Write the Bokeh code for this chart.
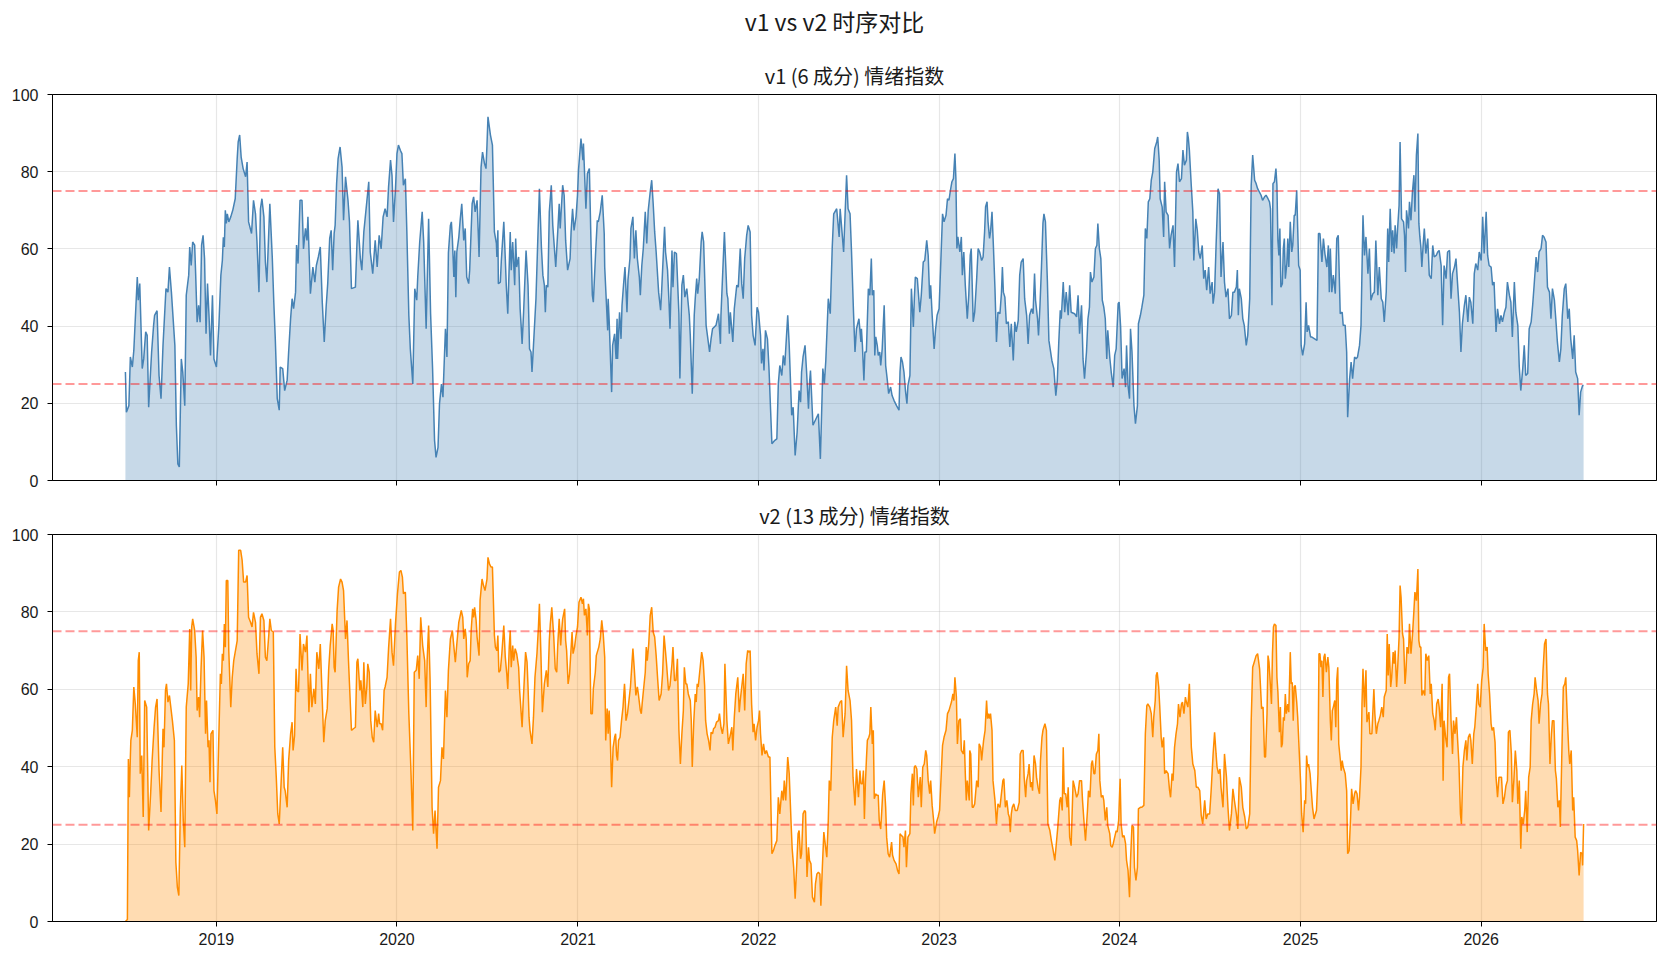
import numpy as np
import pandas as pd
from bokeh.plotting import figure
from bokeh.layouts import column
from bokeh.models import (Range1d, FixedTicker, DatetimeTickFormatter, Span, Title,
                          ColumnDataSource)
from bokeh.core.properties import value
from bokeh.embed import file_html
from bokeh.resources import INLINE

# ---- data: (days since START, index value) ----
START = "2018-07-01"

v1_points = [
    (0, 28.1), (2, 17.7), (7, 19.4), (10, 32.0), (14, 29.4), (17, 33.7), (24, 52.7), (26, 46.7), (29, 51.0), (34, 29.0),
    (37, 31.5), (41, 38.5), (44, 37.6), (47, 19.0), (53, 33.3), (57, 40.2), (59, 42.8), (64, 44.0), (68, 27.2), (72, 21.2),
    (76, 35.0), (82, 49.7), (86, 48.8), (89, 55.3), (93, 48.8), (100, 35.0), (103, 14.3), (106, 4.3), (109, 3.5), (113, 31.5),
    (116, 28.0), (120, 19.4), (123, 48.0), (128, 53.2), (130, 60.5), (133, 55.7), (136, 61.8), (140, 61.0), (142, 53.6), (145, 41.0),
    (148, 45.4), (151, 41.0), (154, 61.0), (157, 63.5), (160, 57.5), (163, 38.0), (166, 51.0), (169, 42.8), (172, 32.4), (176, 48.0),
    (179, 31.5), (184, 29.4), (189, 40.2), (193, 53.2), (196, 57.0), (198, 63.0), (200, 60.5), (202, 70.0), (204, 66.6), (206, 69.1),
    (209, 67.0), (213, 68.3), (217, 70.0), (222, 73.0), (226, 83.4), (228, 87.7), (231, 89.5), (234, 83.8), (238, 80.8), (243, 78.7),
    (246, 82.5), (249, 67.0), (255, 64.0), (259, 72.6), (263, 69.1), (266, 61.8), (270, 48.8), (273, 70.4), (276, 73.0), (280, 68.3),
    (283, 56.6), (286, 51.4), (292, 71.7), (297, 57.5), (300, 46.2), (303, 36.7), (307, 21.2), (311, 18.2), (313, 29.4), (318, 29.0),
    (322, 23.3), (327, 26.0), (330, 33.3), (334, 42.0), (337, 47.1), (340, 44.5), (344, 48.8), (346, 61.0), (349, 56.2), (353, 72.6),
    (357, 72.6), (360, 60.0), (364, 65.3), (367, 62.2), (369, 68.3), (374, 48.4), (379, 55.3), (383, 51.4), (386, 55.7), (390, 57.9),
    (394, 60.5), (398, 46.2), (402, 35.9), (406, 45.4), (409, 51.0), (413, 62.7), (416, 64.8), (419, 54.5), (422, 64.0), (424, 66.1),
    (427, 77.0), (430, 83.4), (434, 86.4), (438, 81.2), (441, 67.4), (445, 78.7), (450, 72.6), (453, 67.0), (457, 49.7), (465, 50.1),
    (468, 61.0), (470, 67.4), (475, 57.5), (478, 54.5), (482, 64.4), (486, 69.6), (492, 77.4), (495, 59.2), (500, 53.6), (505, 62.2),
    (509, 55.3), (513, 63.5), (517, 60.0), (521, 68.3), (525, 70.4), (529, 68.3), (532, 76.0), (536, 83.0), (539, 79.0), (542, 67.0),
    (546, 75.6), (549, 84.7), (552, 86.9), (556, 85.5), (559, 84.7), (562, 76.5), (566, 78.2), (569, 64.4), (573, 42.8), (576, 34.1),
    (581, 25.0), (585, 49.7), (589, 46.7), (591, 52.7), (595, 61.8), (600, 69.6), (603, 61.8), (608, 39.3), (613, 67.8), (617, 43.2),
    (621, 29.0), (625, 10.4), (628, 6.0), (632, 8.6), (635, 19.9), (639, 25.0), (642, 21.6), (647, 39.3), (650, 32.0), (653, 59.0),
    (657, 66.1), (659, 67.0), (661, 62.7), (664, 52.7), (666, 59.6), (668, 47.5), (670, 59.2), (674, 63.0), (677, 67.8), (680, 71.7),
    (684, 62.2), (687, 65.3), (690, 52.7), (694, 51.0), (696, 54.5), (701, 71.7), (704, 73.5), (707, 69.6), (711, 72.6), (714, 61.8),
    (715, 57.9), (719, 81.2), (722, 85.1), (726, 82.1), (729, 80.8), (731, 86.9), (733, 94.2), (738, 89.5), (742, 86.9), (746, 64.4),
    (750, 61.4), (751, 57.9), (753, 64.8), (754, 51.0), (758, 51.4), (760, 57.0), (765, 67.0), (768, 57.5), (770, 50.6), (773, 43.2),
    (778, 64.4), (780, 54.5), (783, 61.8), (787, 50.6), (789, 62.7), (791, 55.3), (795, 57.9), (798, 44.5), (800, 40.2), (802, 35.4),
    (805, 43.6), (810, 59.6), (814, 50.6), (817, 34.1), (820, 33.3), (822, 28.1), (825, 35.0), (830, 47.1), (834, 63.5), (837, 75.6),
    (841, 60.5), (844, 53.2), (847, 50.6), (849, 43.6), (851, 50.6), (854, 50.1), (857, 69.6), (861, 76.5), (864, 66.1), (870, 55.3),
    (874, 64.4), (877, 71.7), (879, 65.3), (884, 76.5), (887, 73.9), (890, 62.2), (894, 54.5), (899, 57.5), (901, 64.4), (904, 70.4),
    (907, 64.8), (911, 68.3), (914, 73.9), (916, 80.4), (921, 88.6), (925, 83.0), (926, 87.3), (931, 70.4), (934, 79.5), (938, 80.8),
    (941, 63.1), (944, 48.0), (946, 46.2), (951, 60.1), (954, 67.4), (956, 67.0), (960, 69.6), (964, 73.9), (968, 64.0), (969, 55.3),
    (972, 47.1), (975, 38.9), (976, 47.1), (978, 41.5), (983, 22.9), (985, 35.0), (989, 38.0), (992, 31.5), (994, 41.9), (995, 31.5),
    (999, 43.6), (1002, 36.7), (1004, 45.4), (1007, 50.6), (1010, 55.3), (1014, 43.6), (1016, 51.9), (1020, 57.5), (1022, 65.3), (1026, 68.3),
    (1029, 57.5), (1032, 64.8), (1035, 57.5), (1039, 52.7), (1041, 48.0), (1044, 55.7), (1047, 60.1), (1051, 69.6), (1054, 61.4), (1057, 70.0),
    (1061, 74.8), (1064, 77.8), (1067, 71.7), (1070, 64.4), (1073, 59.2), (1078, 48.8), (1082, 44.1), (1084, 48.8), (1090, 65.7), (1092, 59.2),
    (1096, 54.5), (1099, 46.2), (1101, 39.3), (1105, 59.6), (1107, 50.1), (1110, 59.2), (1114, 58.8), (1119, 43.2), (1121, 26.4), (1125, 50.6),
    (1128, 53.2), (1131, 47.5), (1135, 49.7), (1140, 42.8), (1142, 37.6), (1146, 22.5), (1150, 42.8), (1152, 47.1), (1155, 52.3), (1157, 48.4),
    (1160, 51.9), (1164, 61.8), (1166, 64.4), (1169, 61.8), (1174, 40.2), (1181, 33.3), (1184, 36.7), (1187, 39.3), (1194, 40.2), (1199, 43.2),
    (1203, 35.4), (1204, 42.8), (1211, 64.4), (1216, 48.4), (1218, 47.1), (1221, 38.0), (1223, 43.6), (1228, 35.9), (1231, 44.5), (1236, 50.6),
    (1239, 50.1), (1243, 60.1), (1246, 51.0), (1249, 47.1), (1252, 57.5), (1256, 63.5), (1259, 66.1), (1263, 64.4), (1266, 42.8), (1269, 37.6),
    (1273, 35.0), (1277, 44.9), (1280, 43.6), (1284, 37.6), (1286, 30.3), (1289, 34.1), (1291, 28.5), (1294, 38.9), (1298, 36.7), (1301, 29.4),
    (1307, 9.5), (1313, 10.4), (1317, 10.8), (1320, 25.1), (1323, 29.8), (1327, 27.2), (1330, 32.4), (1333, 29.8), (1339, 42.8), (1342, 35.0),
    (1347, 16.9), (1350, 19.0), (1354, 6.5), (1358, 12.5), (1362, 23.3), (1365, 20.3), (1367, 28.1), (1370, 32.0), (1374, 35.0), (1377, 28.5),
    (1381, 18.6), (1383, 25.1), (1385, 28.5), (1390, 14.3), (1401, 17.3), (1405, 5.6), (1410, 29.0), (1413, 25.1), (1416, 31.1), (1421, 47.1),
    (1425, 43.2), (1429, 60.5), (1432, 69.1), (1438, 70.4), (1443, 63.1), (1445, 70.4), (1452, 59.2), (1458, 79.1), (1461, 70.4), (1465, 69.1),
    (1468, 59.2), (1472, 43.6), (1475, 33.3), (1478, 39.3), (1483, 41.9), (1487, 35.9), (1488, 39.3), (1490, 35.0), (1493, 25.9), (1495, 33.3),
    (1498, 33.3), (1502, 49.7), (1505, 48.0), (1508, 57.5), (1510, 48.0), (1513, 49.3), (1515, 32.4), (1517, 37.2), (1520, 35.0), (1522, 32.4),
    (1525, 33.3), (1527, 29.8), (1530, 34.1), (1534, 45.4), (1537, 29.8), (1540, 26.4), (1543, 22.5), (1547, 24.2), (1550, 22.0), (1554, 20.7),
    (1559, 19.4), (1564, 18.2), (1566, 28.1), (1568, 32.0), (1571, 30.7), (1574, 28.1), (1577, 23.3), (1580, 19.9), (1582, 24.6), (1586, 27.2),
    (1589, 49.7), (1593, 39.8), (1595, 47.1), (1597, 52.7), (1601, 52.3), (1606, 43.6), (1609, 48.0), (1613, 56.6), (1616, 57.0), (1620, 62.2),
    (1623, 58.3), (1626, 47.1), (1628, 50.6), (1631, 42.8), (1635, 34.1), (1638, 39.3), (1641, 42.8), (1645, 44.5), (1648, 54.9), (1652, 69.1),
    (1655, 67.0), (1659, 68.7), (1662, 73.0), (1665, 72.6), (1668, 75.2), (1671, 77.4), (1674, 78.2), (1677, 84.7), (1679, 78.2), (1681, 60.1),
    (1683, 63.1), (1687, 59.2), (1690, 63.1), (1692, 53.2), (1695, 59.2), (1698, 50.6), (1702, 41.9), (1705, 48.0), (1708, 58.3), (1710, 60.1),
    (1714, 41.1), (1717, 43.6), (1721, 52.3), (1724, 60.1), (1727, 59.2), (1731, 57.0), (1734, 57.9), (1737, 64.4), (1739, 70.9), (1742, 72.2),
    (1744, 67.0), (1747, 62.7), (1749, 64.4), (1752, 69.6), (1755, 60.1), (1758, 49.7), (1761, 35.9), (1764, 43.6), (1768, 43.2), (1771, 48.4),
    (1773, 55.3), (1775, 48.8), (1778, 47.5), (1781, 40.6), (1785, 41.1), (1788, 34.6), (1791, 40.6), (1795, 31.1), (1798, 41.1), (1801, 38.5),
    (1805, 41.5), (1808, 53.2), (1811, 56.6), (1815, 57.5), (1818, 47.1), (1822, 42.8), (1825, 35.4), (1828, 42.8), (1832, 44.5), (1835, 43.2),
    (1838, 53.6), (1840, 46.7), (1844, 41.9), (1846, 37.6), (1849, 45.4), (1852, 55.3), (1855, 66.6), (1857, 69.1), (1860, 67.0), (1864, 51.4),
    (1867, 36.3), (1870, 33.7), (1873, 31.1), (1877, 29.0), (1881, 22.0), (1884, 25.9), (1887, 35.9), (1890, 44.1), (1892, 41.9), (1896, 51.4),
    (1899, 43.6), (1902, 48.8), (1906, 42.8), (1909, 50.6), (1912, 43.6), (1919, 43.2), (1923, 42.4), (1926, 48.0), (1929, 38.0), (1933, 45.4),
    (1936, 31.5), (1939, 26.4), (1943, 33.3), (1946, 41.9), (1949, 44.9), (1951, 54.0), (1954, 51.4), (1958, 52.7), (1961, 60.1), (1964, 60.9),
    (1966, 66.6), (1969, 60.1), (1972, 57.5), (1975, 46.7), (1978, 44.9), (1981, 41.9), (1984, 31.5), (1986, 38.9), (1990, 32.0), (1993, 28.1),
    (1997, 24.2), (2000, 32.4), (2003, 34.1), (2007, 45.8), (2009, 46.2), (2012, 39.8), (2015, 26.4), (2019, 29.0), (2022, 24.2), (2024, 35.0),
    (2027, 24.6), (2030, 21.2), (2032, 39.3), (2035, 33.3), (2039, 19.4), (2042, 14.7), (2046, 19.4), (2048, 40.6), (2052, 42.8), (2055, 44.9),
    (2059, 48.0), (2062, 65.3), (2065, 62.7), (2068, 72.2), (2071, 73.0), (2074, 77.8), (2077, 79.9), (2081, 86.0), (2085, 87.7), (2087, 89.0),
    (2090, 83.0), (2092, 73.0), (2096, 70.9), (2099, 63.1), (2101, 77.4), (2104, 69.6), (2108, 68.7), (2111, 60.1), (2114, 63.5), (2118, 66.1),
    (2121, 55.3), (2125, 79.9), (2128, 82.1), (2131, 77.4), (2135, 78.2), (2138, 85.6), (2141, 81.7), (2145, 83.0), (2147, 90.3), (2149, 88.6),
    (2151, 85.6), (2155, 76.1), (2158, 69.6), (2160, 57.0), (2164, 67.8), (2167, 64.8), (2170, 59.2), (2173, 57.5), (2177, 60.9), (2180, 52.3),
    (2183, 54.5), (2186, 49.3), (2190, 55.3), (2193, 48.4), (2197, 51.4), (2199, 45.8), (2202, 48.8), (2205, 60.9), (2209, 75.6), (2212, 74.3),
    (2215, 52.7), (2219, 61.8), (2222, 51.4), (2225, 47.5), (2229, 49.7), (2232, 41.9), (2236, 42.8), (2239, 48.8), (2242, 48.8), (2246, 50.1),
    (2248, 54.5), (2250, 42.8), (2252, 49.7), (2256, 47.1), (2259, 41.9), (2262, 40.2), (2266, 35.0), (2269, 37.6), (2273, 47.1), (2276, 76.5),
    (2279, 84.3), (2283, 77.8), (2286, 76.9), (2289, 75.6), (2296, 73.9), (2299, 72.6), (2303, 73.5), (2306, 73.9), (2310, 73.0), (2313, 72.2),
    (2315, 70.4), (2318, 45.4), (2320, 76.9), (2323, 77.4), (2326, 80.8), (2328, 76.5), (2330, 62.2), (2332, 58.3), (2334, 65.3), (2336, 50.1),
    (2339, 51.0), (2341, 60.1), (2343, 62.7), (2345, 52.3), (2348, 56.2), (2350, 62.7), (2352, 55.3), (2355, 67.0), (2358, 59.2), (2360, 60.9),
    (2363, 68.7), (2365, 68.7), (2368, 75.2), (2370, 65.3), (2372, 55.7), (2375, 54.5), (2377, 35.0), (2380, 32.4), (2384, 35.4), (2387, 46.2),
    (2389, 38.5), (2392, 40.2), (2396, 37.2), (2398, 37.2), (2409, 36.3), (2412, 64.0), (2415, 64.0), (2419, 56.6), (2422, 62.7), (2425, 58.8),
    (2429, 55.3), (2432, 60.9), (2434, 48.8), (2436, 60.1), (2439, 48.8), (2442, 53.2), (2446, 48.4), (2449, 62.7), (2452, 63.5), (2456, 43.2),
    (2460, 43.6), (2462, 40.2), (2466, 40.2), (2469, 33.3), (2471, 16.4), (2475, 26.4), (2478, 30.7), (2481, 26.4), (2485, 32.0), (2488, 31.5),
    (2491, 32.0), (2495, 35.0), (2498, 40.2), (2502, 68.7), (2505, 58.3), (2508, 63.1), (2512, 53.6), (2515, 60.1), (2518, 46.7), (2522, 48.4),
    (2525, 48.8), (2528, 62.2), (2532, 48.0), (2535, 55.3), (2539, 47.1), (2542, 46.2), (2545, 41.1), (2549, 48.8), (2552, 65.3), (2554, 56.6),
    (2557, 70.4), (2560, 59.2), (2562, 64.8), (2565, 58.8), (2567, 66.1), (2570, 60.1), (2572, 65.3), (2575, 71.3), (2577, 87.7), (2580, 67.8),
    (2584, 67.0), (2586, 63.5), (2588, 54.0), (2590, 70.0), (2594, 65.3), (2596, 72.2), (2599, 67.4), (2602, 74.8), (2605, 79.1), (2607, 69.6),
    (2610, 84.3), (2613, 89.9), (2615, 66.6), (2617, 63.1), (2619, 60.5), (2621, 55.3), (2624, 61.8), (2626, 65.3), (2629, 58.8), (2633, 62.7),
    (2636, 53.2), (2640, 52.3), (2643, 60.9), (2646, 57.9), (2650, 58.3), (2653, 59.2), (2656, 59.6), (2660, 55.7), (2663, 40.2), (2666, 55.7),
    (2670, 52.3), (2673, 59.2), (2677, 59.6), (2680, 47.1), (2683, 53.6), (2687, 55.3), (2690, 57.5), (2693, 51.4), (2697, 43.6), (2700, 33.3),
    (2703, 40.6), (2707, 45.4), (2710, 48.0), (2714, 41.1), (2717, 47.5), (2720, 46.2), (2724, 40.6), (2727, 53.6), (2730, 56.2), (2734, 54.5),
    (2737, 59.2), (2741, 57.0), (2744, 68.3), (2747, 58.8), (2751, 69.6), (2754, 58.3), (2757, 55.7), (2761, 55.3), (2764, 50.6), (2767, 51.4),
    (2771, 38.5), (2774, 44.5), (2778, 40.6), (2781, 42.8), (2784, 41.1), (2788, 43.6), (2791, 44.9), (2794, 51.4), (2798, 48.0), (2801, 46.2),
    (2804, 37.2), (2808, 51.4), (2811, 43.6), (2815, 40.2), (2818, 29.4), (2821, 23.3), (2825, 29.0), (2828, 35.0), (2831, 27.2), (2835, 27.7),
    (2838, 39.3), (2842, 41.1), (2845, 45.4), (2848, 50.6), (2852, 57.9), (2855, 54.0), (2858, 59.2), (2862, 60.1), (2865, 63.5), (2868, 63.1),
    (2872, 61.8), (2875, 50.1), (2879, 48.8), (2882, 41.9), (2885, 49.7), (2889, 46.7), (2892, 41.5), (2895, 35.9), (2899, 30.7), (2902, 34.1),
    (2905, 42.8), (2909, 49.7), (2912, 51.0), (2916, 41.9), (2919, 44.5), (2922, 36.7), (2926, 31.5), (2929, 37.6), (2932, 28.1), (2936, 26.4),
    (2939, 16.9), (2942, 22.9), (2946, 24.6), (2948, 24.6),
]

v2_points = [
    (0, 0.0), (4, 0.5), (6, 42.0), (8, 32.1), (10, 42.5), (11, 46.8), (14, 49.4), (17, 60.6), (20, 56.2), (24, 47.6),
    (26, 67.4), (28, 69.6), (30, 38.2), (33, 42.9), (36, 27.0), (39, 57.1), (43, 55.4), (47, 23.5), (51, 33.0), (54, 41.6),
    (58, 50.2), (61, 55.4), (64, 57.5), (68, 39.0), (72, 28.3), (76, 49.8), (78, 45.0), (81, 59.7), (83, 61.4), (86, 56.7),
    (89, 58.4), (95, 51.9), (99, 46.8), (102, 15.3), (105, 8.9), (108, 6.7), (111, 28.7), (114, 40.3), (117, 26.1), (120, 19.2),
    (123, 55.4), (127, 61.4), (130, 75.6), (132, 59.7), (134, 76.1), (136, 78.2), (140, 75.2), (143, 68.3), (145, 54.5), (148, 58.0),
    (150, 52.8), (153, 65.7), (156, 75.2), (159, 68.3), (162, 48.5), (164, 57.1), (167, 45.0), (169, 46.8), (171, 36.0), (173, 48.5),
    (177, 49.4), (179, 33.8), (182, 31.3), (185, 27.8), (189, 48.5), (192, 64.0), (194, 61.4), (196, 69.2), (198, 67.4), (200, 76.9),
    (202, 70.9), (204, 88.1), (207, 88.1), (209, 70.0), (213, 55.4), (216, 63.1), (219, 67.4), (226, 72.6), (229, 95.9), (233, 95.9),
    (236, 93.3), (239, 87.7), (243, 87.7), (246, 89.4), (249, 78.6), (253, 77.3), (256, 76.1), (259, 79.9), (263, 77.3), (266, 69.2),
    (270, 64.0), (273, 78.6), (276, 79.5), (280, 77.8), (283, 68.3), (286, 67.4), (290, 74.3), (292, 78.2), (295, 75.2), (299, 74.8),
    (302, 45.0), (305, 37.3), (308, 27.8), (311, 25.2), (314, 33.8), (318, 45.0), (321, 34.7), (323, 33.8), (327, 29.5), (330, 41.6),
    (334, 48.5), (337, 51.5), (339, 44.2), (342, 48.1), (345, 65.3), (347, 59.7), (350, 59.3), (353, 74.3), (357, 64.9), (360, 71.7),
    (364, 69.6), (367, 73.9), (371, 54.1), (374, 64.0), (377, 55.4), (381, 60.1), (384, 56.2), (387, 69.6), (391, 65.3), (394, 71.7),
    (398, 57.1), (401, 46.3), (404, 51.9), (408, 55.0), (411, 65.3), (414, 71.3), (418, 76.9), (420, 75.2), (422, 65.7), (424, 64.4),
    (428, 80.4), (431, 86.4), (435, 88.5), (438, 87.7), (441, 85.5), (445, 73.0), (448, 77.8), (451, 67.4), (457, 49.4), (461, 49.8),
    (465, 50.2), (468, 67.0), (470, 67.9), (474, 59.7), (476, 62.3), (480, 55.4), (482, 67.0), (485, 56.2), (488, 60.6), (490, 66.6),
    (493, 64.4), (496, 51.9), (499, 47.6), (502, 46.3), (505, 54.5), (509, 50.2), (512, 53.7), (514, 51.1), (517, 51.1), (520, 49.4),
    (523, 59.7), (525, 60.6), (529, 63.1), (532, 70.5), (536, 78.2), (539, 69.6), (542, 66.1), (546, 76.9), (550, 84.7), (554, 90.3),
    (557, 90.7), (560, 89.0), (562, 84.7), (566, 85.1), (569, 73.5), (573, 53.7), (577, 39.9), (581, 23.5), (584, 64.4), (588, 64.9),
    (591, 68.7), (594, 62.7), (597, 78.6), (601, 71.3), (605, 67.4), (608, 55.4), (610, 67.4), (613, 76.5), (616, 62.3), (620, 29.5),
    (623, 22.7), (626, 28.7), (630, 18.8), (633, 34.7), (637, 36.4), (640, 45.0), (643, 42.0), (647, 59.7), (650, 52.8), (653, 64.9),
    (657, 73.0), (661, 75.2), (667, 67.0), (670, 71.7), (674, 77.3), (679, 80.4), (682, 78.6), (684, 73.0), (687, 75.6), (689, 73.0),
    (691, 63.1), (694, 66.6), (697, 67.4), (699, 75.2), (702, 80.8), (704, 78.6), (706, 81.2), (709, 77.8), (711, 73.5), (715, 68.7),
    (717, 82.9), (721, 88.5), (724, 86.8), (727, 85.5), (731, 88.5), (733, 94.1), (736, 92.4), (739, 91.6), (742, 91.6), (746, 73.9),
    (748, 70.9), (751, 70.0), (753, 73.9), (755, 64.4), (758, 64.9), (761, 69.2), (765, 76.5), (768, 68.3), (771, 64.0), (773, 60.1),
    (776, 70.9), (778, 75.2), (780, 65.7), (783, 71.3), (785, 67.4), (788, 70.5), (791, 69.2), (795, 65.7), (797, 59.7), (802, 50.2),
    (804, 56.2), (806, 61.4), (809, 69.6), (812, 67.0), (814, 60.6), (816, 52.8), (818, 49.4), (822, 45.9), (825, 52.8), (828, 63.1),
    (832, 69.2), (835, 76.1), (837, 82.1), (840, 69.2), (843, 54.1), (847, 61.4), (851, 64.9), (854, 60.6), (857, 72.6), (859, 76.9),
    (862, 81.2), (866, 73.5), (869, 65.3), (872, 64.4), (874, 71.3), (877, 78.2), (880, 71.3), (882, 75.2), (884, 78.2), (888, 80.8),
    (890, 72.6), (892, 70.0), (895, 61.4), (898, 64.0), (903, 74.8), (905, 69.2), (908, 70.9), (911, 73.9), (914, 76.1), (917, 82.5),
    (921, 83.8), (924, 82.1), (926, 83.4), (928, 79.1), (931, 80.8), (934, 73.9), (936, 82.1), (938, 80.8), (941, 53.7), (944, 53.7),
    (946, 60.1), (950, 64.4), (952, 68.7), (954, 69.6), (957, 70.9), (960, 73.0), (963, 77.8), (966, 74.3), (969, 68.3), (971, 46.8),
    (974, 55.0), (976, 48.5), (978, 54.5), (980, 48.5), (983, 34.7), (986, 45.0), (989, 47.6), (991, 48.5), (993, 42.9), (995, 41.6),
    (997, 46.8), (1000, 47.6), (1003, 51.9), (1006, 55.4), (1009, 61.4), (1010, 59.3), (1012, 51.9), (1015, 53.7), (1018, 57.1), (1021, 60.6),
    (1024, 66.6), (1026, 70.5), (1029, 64.9), (1032, 58.4), (1035, 60.6), (1037, 58.8), (1041, 54.5), (1043, 53.7), (1045, 56.7), (1048, 60.6),
    (1051, 64.4), (1053, 70.9), (1055, 67.4), (1058, 71.7), (1061, 79.1), (1064, 81.2), (1067, 74.8), (1070, 73.5), (1073, 68.7), (1076, 62.7),
    (1079, 57.1), (1083, 58.8), (1086, 64.0), (1089, 73.9), (1092, 69.6), (1094, 66.6), (1098, 59.7), (1101, 61.0), (1105, 66.6), (1107, 70.9),
    (1110, 62.3), (1113, 62.3), (1116, 67.9), (1119, 49.4), (1122, 40.7), (1125, 48.5), (1128, 54.5), (1130, 65.7), (1133, 61.4), (1135, 61.4),
    (1138, 58.8), (1142, 57.1), (1144, 51.9), (1146, 39.9), (1149, 51.5), (1152, 58.8), (1154, 56.7), (1156, 61.4), (1158, 60.6), (1162, 65.7),
    (1165, 69.6), (1168, 67.4), (1171, 61.0), (1173, 51.9), (1176, 48.5), (1179, 46.8), (1182, 44.2), (1184, 48.9), (1187, 48.5), (1189, 49.8),
    (1192, 50.2), (1195, 51.5), (1199, 51.9), (1201, 53.7), (1204, 50.2), (1207, 48.5), (1210, 51.1), (1212, 66.6), (1216, 51.9), (1219, 45.9),
    (1222, 47.6), (1226, 50.2), (1228, 44.2), (1231, 52.8), (1234, 58.8), (1238, 63.1), (1241, 54.1), (1243, 57.1), (1246, 60.6), (1249, 64.0),
    (1252, 54.5), (1255, 66.6), (1258, 70.0), (1261, 69.6), (1263, 70.0), (1266, 56.2), (1269, 48.9), (1271, 51.1), (1274, 46.8), (1277, 50.2),
    (1280, 51.9), (1282, 54.5), (1284, 48.5), (1287, 42.9), (1290, 45.9), (1293, 43.3), (1296, 44.2), (1300, 42.5), (1303, 42.5), (1307, 17.5),
    (1310, 18.3), (1313, 19.6), (1317, 20.9), (1320, 32.1), (1323, 27.8), (1327, 33.8), (1330, 31.3), (1332, 36.4), (1335, 31.3), (1339, 42.5),
    (1342, 38.2), (1346, 24.8), (1348, 18.8), (1351, 14.0), (1354, 5.9), (1357, 14.0), (1360, 22.7), (1362, 23.5), (1365, 16.2), (1367, 17.5),
    (1370, 27.8), (1373, 28.7), (1375, 28.3), (1378, 11.5), (1381, 19.2), (1383, 15.8), (1386, 14.9), (1389, 6.3), (1393, 5.0), (1395, 9.7),
    (1398, 12.3), (1401, 12.7), (1404, 12.3), (1406, 4.1), (1409, 14.0), (1412, 23.1), (1414, 20.9), (1418, 16.6), (1421, 26.1), (1423, 36.4),
    (1426, 33.8), (1429, 47.6), (1432, 51.9), (1436, 55.4), (1439, 50.6), (1441, 55.4), (1445, 56.7), (1448, 57.1), (1451, 47.6), (1455, 53.7),
    (1458, 66.1), (1461, 59.7), (1465, 57.1), (1468, 51.9), (1471, 37.3), (1475, 30.0), (1478, 39.4), (1482, 32.1), (1485, 39.0), (1487, 35.6),
    (1490, 35.6), (1492, 39.0), (1494, 26.5), (1496, 35.6), (1498, 41.6), (1500, 46.8), (1503, 47.6), (1505, 48.5), (1507, 55.4), (1510, 45.9),
    (1512, 49.4), (1514, 31.7), (1517, 33.0), (1519, 32.6), (1522, 32.6), (1524, 26.1), (1527, 23.9), (1529, 28.3), (1531, 33.0), (1534, 36.4),
    (1537, 29.5), (1539, 21.8), (1542, 17.5), (1545, 16.6), (1549, 20.5), (1551, 17.1), (1554, 15.8), (1558, 14.9), (1561, 13.2), (1564, 12.3),
    (1566, 22.7), (1569, 22.2), (1572, 21.8), (1574, 19.2), (1577, 23.5), (1579, 14.0), (1582, 21.8), (1586, 22.7), (1588, 33.0), (1591, 38.2),
    (1593, 30.0), (1595, 39.9), (1597, 40.3), (1600, 39.4), (1603, 32.1), (1605, 34.7), (1607, 37.3), (1609, 29.5), (1612, 39.9), (1615, 40.7),
    (1618, 44.2), (1620, 42.9), (1623, 36.4), (1626, 33.0), (1628, 36.4), (1631, 30.0), (1634, 26.1), (1636, 22.7), (1640, 25.7), (1643, 27.0),
    (1646, 28.7), (1650, 39.9), (1652, 45.5), (1655, 47.6), (1659, 49.4), (1662, 53.7), (1665, 54.5), (1667, 55.4), (1670, 56.7), (1673, 58.8),
    (1675, 57.1), (1677, 63.1), (1680, 58.0), (1682, 45.9), (1685, 51.9), (1688, 52.4), (1690, 44.2), (1694, 43.3), (1696, 46.8), (1698, 38.2),
    (1700, 31.3), (1702, 36.4), (1706, 31.3), (1707, 44.2), (1709, 43.3), (1712, 29.5), (1714, 29.5), (1717, 30.4), (1721, 36.4), (1724, 34.7),
    (1726, 45.9), (1729, 45.0), (1731, 41.6), (1733, 44.2), (1735, 46.8), (1738, 49.4), (1741, 57.1), (1743, 52.4), (1745, 53.7), (1747, 52.4),
    (1749, 53.7), (1752, 49.4), (1754, 36.4), (1758, 31.3), (1761, 25.2), (1764, 30.4), (1768, 29.5), (1771, 33.0), (1774, 36.4), (1776, 36.9),
    (1779, 29.5), (1782, 31.3), (1785, 27.8), (1787, 27.0), (1789, 23.1), (1791, 27.8), (1793, 29.5), (1796, 30.4), (1799, 28.7), (1803, 28.7),
    (1807, 30.8), (1809, 43.3), (1812, 44.2), (1815, 44.2), (1817, 37.3), (1820, 32.1), (1822, 36.4), (1825, 38.2), (1827, 40.7), (1830, 34.7),
    (1832, 36.0), (1834, 33.8), (1837, 42.9), (1840, 40.7), (1842, 37.3), (1845, 34.7), (1848, 33.0), (1850, 41.6), (1853, 47.6), (1855, 49.4),
    (1859, 51.1), (1862, 49.4), (1865, 25.2), (1869, 23.5), (1872, 20.9), (1875, 18.8), (1879, 15.8), (1882, 20.1), (1885, 24.4), (1889, 31.3),
    (1891, 32.1), (1894, 28.7), (1896, 45.0), (1898, 33.0), (1901, 33.0), (1904, 29.5), (1906, 34.7), (1909, 21.8), (1912, 19.6), (1916, 36.4),
    (1919, 34.7), (1923, 32.1), (1926, 33.0), (1929, 36.4), (1933, 36.4), (1935, 31.3), (1938, 25.7), (1941, 20.9), (1945, 28.7), (1947, 33.8),
    (1950, 32.1), (1953, 40.7), (1955, 41.6), (1958, 38.2), (1960, 38.2), (1963, 43.3), (1966, 44.2), (1968, 48.5), (1970, 36.4), (1973, 32.1),
    (1976, 32.6), (1978, 31.3), (1981, 26.1), (1984, 29.5), (1986, 24.8), (1990, 22.7), (1992, 19.6), (1995, 19.2), (1997, 20.1), (2000, 21.8),
    (2003, 23.5), (2005, 23.1), (2008, 26.1), (2011, 36.9), (2013, 25.2), (2016, 21.8), (2019, 22.2), (2022, 20.1), (2024, 15.8), (2027, 13.2),
    (2030, 6.3), (2032, 15.8), (2035, 24.8), (2038, 24.4), (2040, 14.0), (2043, 10.6), (2046, 14.0), (2048, 29.1), (2052, 29.5), (2055, 29.5),
    (2059, 30.0), (2062, 48.5), (2065, 55.8), (2067, 56.2), (2071, 55.4), (2074, 53.7), (2077, 47.6), (2079, 52.8), (2082, 57.1), (2084, 63.6),
    (2086, 64.4), (2089, 60.6), (2091, 55.8), (2094, 47.6), (2096, 45.0), (2099, 47.6), (2101, 38.2), (2104, 39.0), (2108, 38.2), (2111, 33.8),
    (2113, 32.1), (2116, 38.2), (2118, 36.4), (2121, 45.0), (2124, 48.5), (2127, 51.1), (2129, 56.2), (2132, 52.8), (2135, 56.2), (2137, 56.7),
    (2140, 53.7), (2143, 58.0), (2145, 56.7), (2148, 55.4), (2151, 61.4), (2155, 45.0), (2158, 40.7), (2162, 39.0), (2165, 34.7), (2168, 34.7),
    (2172, 33.8), (2175, 27.4), (2178, 25.2), (2182, 31.3), (2185, 26.5), (2188, 27.8), (2192, 27.8), (2195, 33.8), (2199, 43.3), (2202, 48.9),
    (2205, 43.3), (2207, 39.9), (2210, 38.2), (2213, 39.4), (2215, 34.7), (2219, 29.5), (2222, 43.3), (2226, 37.3), (2229, 29.5), (2232, 23.5),
    (2236, 27.8), (2239, 34.3), (2242, 31.3), (2246, 27.8), (2249, 23.9), (2252, 37.3), (2256, 34.7), (2259, 29.5), (2263, 27.0), (2266, 23.9),
    (2269, 24.4), (2273, 27.8), (2276, 51.9), (2279, 65.7), (2283, 67.4), (2286, 68.7), (2289, 69.2), (2293, 65.3), (2297, 55.0), (2300, 55.4),
    (2303, 42.5), (2305, 42.5), (2308, 53.7), (2310, 68.7), (2312, 67.0), (2315, 60.6), (2317, 56.2), (2319, 69.2), (2321, 76.1), (2323, 76.9),
    (2326, 76.5), (2328, 63.1), (2330, 59.3), (2333, 48.9), (2335, 55.4), (2337, 45.0), (2339, 45.9), (2341, 52.8), (2343, 51.9), (2345, 58.8),
    (2347, 53.7), (2350, 56.2), (2352, 54.1), (2355, 69.6), (2357, 61.4), (2359, 61.8), (2361, 51.9), (2363, 60.6), (2365, 61.0), (2368, 56.7),
    (2370, 52.8), (2373, 44.2), (2376, 35.6), (2378, 27.8), (2381, 23.1), (2384, 31.3), (2386, 30.4), (2388, 42.9), (2390, 39.9), (2392, 40.7),
    (2395, 38.2), (2397, 34.7), (2400, 29.5), (2403, 26.5), (2405, 27.4), (2408, 28.7), (2411, 38.2), (2413, 69.2), (2415, 69.2), (2417, 65.7),
    (2419, 67.4), (2421, 58.0), (2423, 68.3), (2425, 69.2), (2428, 64.4), (2431, 68.3), (2433, 65.7), (2436, 51.9), (2438, 46.8), (2440, 54.5),
    (2442, 55.4), (2445, 57.1), (2447, 50.2), (2449, 62.3), (2451, 65.7), (2453, 45.9), (2456, 42.0), (2458, 39.0), (2460, 41.6), (2462, 39.9),
    (2466, 38.2), (2469, 33.8), (2471, 17.5), (2474, 18.3), (2477, 27.0), (2479, 34.3), (2482, 30.4), (2485, 33.0), (2487, 33.8), (2490, 33.0),
    (2493, 28.7), (2495, 32.1), (2498, 39.9), (2500, 56.2), (2502, 65.3), (2505, 55.4), (2508, 64.9), (2510, 51.5), (2514, 54.1), (2516, 48.5),
    (2520, 48.5), (2524, 60.1), (2526, 53.7), (2529, 48.5), (2532, 51.1), (2534, 51.9), (2537, 53.2), (2540, 55.4), (2543, 52.8), (2545, 58.0),
    (2549, 59.7), (2551, 74.3), (2553, 63.6), (2555, 71.7), (2558, 60.6), (2560, 63.1), (2563, 69.6), (2565, 66.6), (2567, 70.0), (2570, 60.6),
    (2572, 65.3), (2575, 73.5), (2577, 86.8), (2579, 83.8), (2582, 74.3), (2584, 73.0), (2587, 61.4), (2589, 64.9), (2591, 70.9), (2594, 69.2),
    (2596, 76.9), (2599, 69.2), (2602, 73.9), (2605, 80.4), (2607, 85.1), (2610, 82.9), (2613, 91.1), (2615, 72.6), (2617, 70.9), (2619, 70.9),
    (2621, 58.4), (2624, 59.7), (2627, 58.4), (2629, 69.2), (2632, 67.4), (2635, 68.7), (2638, 58.8), (2640, 61.4), (2643, 53.7), (2646, 51.9),
    (2648, 49.4), (2651, 56.2), (2654, 57.5), (2656, 55.4), (2659, 50.2), (2662, 61.4), (2664, 36.4), (2666, 51.9), (2669, 47.6), (2672, 45.0),
    (2675, 63.1), (2677, 64.0), (2680, 51.9), (2683, 43.3), (2685, 51.9), (2688, 48.5), (2691, 52.8), (2693, 47.6), (2696, 40.7), (2699, 27.8),
    (2701, 25.2), (2704, 39.9), (2707, 44.2), (2710, 46.8), (2712, 41.6), (2715, 47.6), (2718, 48.5), (2720, 46.8), (2723, 40.7), (2726, 48.5),
    (2728, 50.2), (2731, 55.4), (2734, 61.4), (2736, 56.2), (2739, 55.4), (2742, 62.3), (2745, 65.7), (2747, 76.9), (2750, 70.0), (2753, 70.9),
    (2755, 64.0), (2758, 58.8), (2761, 51.1), (2763, 49.4), (2766, 50.2), (2769, 46.3), (2771, 37.3), (2774, 32.1), (2777, 37.3), (2780, 37.3),
    (2782, 37.3), (2785, 30.4), (2788, 32.1), (2791, 35.1), (2794, 36.4), (2796, 48.9), (2799, 49.4), (2802, 43.3), (2804, 30.8), (2807, 36.4),
    (2810, 44.2), (2813, 39.0), (2815, 30.4), (2818, 36.4), (2821, 18.8), (2823, 27.0), (2826, 25.2), (2829, 28.7), (2831, 33.8), (2834, 23.1),
    (2837, 37.3), (2840, 39.9), (2842, 51.9), (2845, 56.2), (2848, 58.8), (2850, 63.1), (2853, 59.7), (2856, 57.1), (2858, 51.1), (2861, 56.2),
    (2864, 58.8), (2866, 64.9), (2869, 71.7), (2872, 73.0), (2875, 58.8), (2877, 56.2), (2880, 40.7), (2883, 48.5), (2885, 51.9), (2888, 51.9),
    (2891, 39.0), (2893, 36.9), (2896, 29.5), (2899, 31.3), (2901, 24.4), (2904, 43.3), (2907, 60.6), (2910, 61.4), (2912, 63.1), (2915, 52.8),
    (2918, 44.2), (2920, 40.7), (2923, 44.2), (2926, 28.7), (2928, 32.1), (2931, 21.8), (2934, 20.9), (2936, 18.3), (2939, 11.9), (2942, 17.9),
    (2945, 17.5), (2946, 14.5), (2948, 25.2),
]

YEARS = [2019, 2020, 2021, 2022, 2023, 2024, 2025, 2026]
Y_TICKS = [0, 20, 40, 60, 80, 100]
THRESHOLDS = [25, 75]

SUPTITLE = "v1 vs v2 时序对比"
PANELS = [
    ("v1 (6 成分) 情绪指数", v1_points, "#4682B4"),
    ("v2 (13 成分) 情绪指数", v2_points, "#FF8C00"),
]

TITLE_FONT = "Noto Sans CJK SC"
TICK_FONT = "Liberation Sans"
WIDTH = 1668
HEADER_H = 47
BORDER_L, BORDER_R = 52, 12


def to_source(points):
    days = np.array([p[0] for p in points], dtype="timedelta64[D]")
    vals = np.array([p[1] for p in points], dtype=float)
    dates = np.datetime64(START) + days
    return ColumnDataSource(dict(date=dates, value=vals, base=np.zeros_like(vals)))


# x extent: data span plus 5% padding on both sides
all_days = [p[0] for p in v1_points] + [p[0] for p in v2_points]
span = max(all_days) - min(all_days)
pad = 0.05 * span
x0 = pd.Timestamp(START) + pd.Timedelta(days=min(all_days) - pad)
x1 = pd.Timestamp(START) + pd.Timedelta(days=max(all_days) + pad)
x_range = Range1d(start=x0, end=x1)

year_ms = [pd.Timestamp(f"{y}-01-01").value // 10**6 for y in YEARS]
fmt = "%Y"
date_fmt = DatetimeTickFormatter(microseconds=fmt, milliseconds=fmt, seconds=fmt, minsec=fmt,
                                 minutes=fmt, hourmin=fmt, hours=fmt, days=fmt, months=fmt, years=fmt)


def make_panel(title, points, color, height, top, bottom, show_xlabels):
    p = figure(width=WIDTH, height=height, x_axis_type="datetime", x_range=x_range,
               y_range=Range1d(0, 100), output_backend="svg", toolbar_location=None,
               min_border_left=BORDER_L, min_border_right=BORDER_R, min_border_top=top,
               min_border_bottom=bottom)
    src = to_source(points)
    p.varea(x="date", y1="base", y2="value", source=src, fill_color=color, fill_alpha=0.3)
    p.line(x="date", y="value", source=src, line_color=color, line_width=1.5)
    for t in THRESHOLDS:
        p.add_layout(Span(location=t, dimension="width", line_color="red", line_alpha=0.4,
                          line_dash="9 4", line_width=2.2))

    p.xaxis.ticker = FixedTicker(ticks=year_ms)
    p.xaxis.formatter = date_fmt
    p.yaxis.ticker = FixedTicker(ticks=Y_TICKS)
    p.axis.major_tick_out = 5
    p.axis.major_tick_in = 0
    p.axis.minor_tick_line_color = None
    p.axis.axis_line_color = "black"
    p.axis.major_tick_line_color = "black"
    p.axis.major_label_text_font = TICK_FONT
    p.axis.major_label_text_font_size = "16px"
    p.axis.major_label_text_color = "#1a1a1a"
    p.xaxis.major_label_standoff = 6
    p.yaxis.major_label_standoff = 9
    if not show_xlabels:
        # shared time axis: tick marks only on the upper panel
        p.xaxis.major_label_text_color = None
        p.xaxis.major_label_text_font_size = "1px"
        p.xaxis.major_label_standoff = 0

    p.grid.grid_line_color = "#b0b0b0"
    p.grid.grid_line_alpha = 0.3
    p.grid.grid_line_width = 1.2
    p.outline_line_color = "black"
    p.outline_line_alpha = 1
    p.outline_line_width = 1
    p.background_fill_color = "white"
    p.border_fill_color = "white"

    p.add_layout(Title(text=title, align="center", text_font=TITLE_FONT, text_font_size="20px",
                       text_font_style="normal", text_color="#1a1a1a", standoff=10), "above")
    return p


# header strip carrying the overall title; its x scale is in page pixels
# (the column aligns its frame with the panels below)
header = figure(width=WIDTH, height=HEADER_H, x_range=Range1d(BORDER_L, WIDTH - BORDER_R),
                y_range=Range1d(HEADER_H, 0), output_backend="svg", toolbar_location=None,
                min_border_left=BORDER_L, min_border_right=BORDER_R, min_border_top=0,
                min_border_bottom=0, outline_line_color=None)
header.axis.visible = False
header.grid.visible = False
header.text(x=[WIDTH / 2], y=[20], text=[SUPTITLE], text_align="center", text_baseline="middle",
            text_font=value(TITLE_FONT), text_font_size="23px", text_color="#1a1a1a")

p1 = make_panel(*PANELS[0], height=961 - 471 - HEADER_H, top=47, bottom=10, show_xlabels=False)
p2 = make_panel(*PANELS[1], height=471, top=44, bottom=40, show_xlabels=True)

layout = column(header, p1, p2)
open("out.html", "w").write(file_html(layout, INLINE))
